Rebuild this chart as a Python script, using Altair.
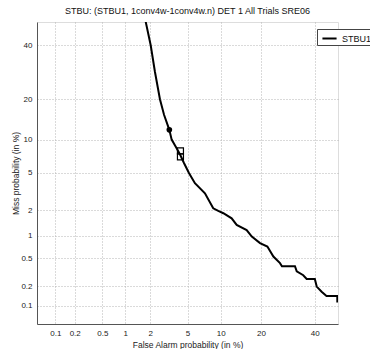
import altair as alt
import pandas as pd
from statistics import NormalDist

_nd = NormalDist()


def probit(pct):
    return _nd.inv_cdf(pct / 100.0)


# DET curve (percent)
curve_pfa = [1.74, 2.03, 2.27, 2.58, 2.86, 3.26, 3.45, 3.82, 4.20, 4.61, 5.16, 5.89,
             7.29, 8.63, 9.53, 10.5, 12.25, 13.4, 15.9, 17.3, 19.7, 22.0, 24.0, 26.3,
             27.0, 31.9, 32.6, 35.2, 36.6, 40.0, 40.8, 42.9, 45.0, 49.7, 49.7]
curve_pmiss = [51.7, 40.0, 29.3, 20.0, 15.6, 12.0, 10.0, 8.66, 7.48, 6.23, 5.0, 3.95,
               3.10, 2.12, 1.98, 1.86, 1.62, 1.35, 1.17, 0.97, 0.80, 0.72, 0.53, 0.43,
               0.39, 0.39, 0.33, 0.29, 0.256, 0.256, 0.197, 0.165, 0.142, 0.142, 0.112]

# min DCF point and actual DCF markers (percent)
min_pfa = [3.26]
min_pmiss = [12.0]
act_pfa = [4.25, 4.25]
act_pmiss = [8.0, 7.07]

tick_pct = [0.1, 0.2, 0.5, 1, 2, 5, 10, 20, 40]
tick_labels = ["0.1", "0.2", "0.5", "1", "2", "5", "10", "20", "40"]
domain_pct = [0.05, 50]
series_name = "STBU1"

curve = pd.DataFrame({
    "i": list(range(len(curve_pfa))),
    "x": [probit(v) for v in curve_pfa],
    "y": [probit(v) for v in curve_pmiss],
    "system": [series_name] * len(curve_pfa),
})
mins = pd.DataFrame({"x": [probit(v) for v in min_pfa], "y": [probit(v) for v in min_pmiss]})
acts = pd.DataFrame({"x": [probit(v) for v in act_pfa], "y": [probit(v) for v in act_pmiss]})

tick_vals = [probit(v) for v in tick_pct]
expr = "'" + tick_labels[-1] + "'"
for k in range(len(tick_vals) - 2, -1, -1):
    mid = (tick_vals[k] + tick_vals[k + 1]) / 2
    expr = f"datum.value < {mid:.4f} ? '{tick_labels[k]}' : ({expr})"

dom = [probit(domain_pct[0]), probit(domain_pct[1])]
FONT = "Liberation Sans"

common_axis = dict(
    values=tick_vals, tickCount=30, labelExpr=expr, grid=True, gridDash=[1, 2],
    gridColor="#b4b4b4", gridWidth=1, ticks=False, domainColor="#555555",
    labelFontSize=8, labelPadding=5, labelColor="#222222", titleFontSize=8.5,
    titleFontWeight="normal", titleColor="#222222", labelFont=FONT, titleFont=FONT,
    titleBaseline="middle", labelOverlap=False, labelFlush=False, labelBound=False,
)

xenc = alt.X("x:Q", scale=alt.Scale(domain=dom, nice=False, zero=False),
             axis=alt.Axis(title="False Alarm probability (in %)", titleX=150.5, titleY=20,
                           **common_axis))
yenc = alt.Y("y:Q", scale=alt.Scale(domain=dom, nice=False, zero=False),
             axis=alt.Axis(title="Miss probability (in %)", titleX=-22, titleY=151,
                           **common_axis))

line = alt.Chart(curve).mark_line(strokeWidth=2, clip=True).encode(
    x=xenc, y=yenc, order="i:Q",
    color=alt.Color("system:N", scale=alt.Scale(range=["black"]),
                    legend=alt.Legend(orient="none", legendX=280, legendY=7, title=None,
                                      symbolType="stroke", symbolSize=200,
                                      symbolStrokeWidth=2, padding=1, symbolOffset=3,
                                      labelOffset=4, strokeColor="#444444", fillColor="white",
                                      labelFontSize=9, labelFont=FONT, labelColor="#111111")),
)

pts_min = alt.Chart(mins).mark_point(shape="circle", filled=True, size=32, color="black",
                                     opacity=1).encode(x="x:Q", y="y:Q")
pts_act = alt.Chart(acts).mark_point(shape="square", filled=False, size=36, color="black",
                                     strokeWidth=1.2, opacity=1).encode(x="x:Q", y="y:Q")

chart = alt.layer(line, pts_min, pts_act).properties(
    width=301, height=302,
    autosize="none",
    padding={"left": 37, "top": 22, "right": 32, "bottom": 25},
    title=alt.TitleParams("STBU: (STBU1, 1conv4w-1conv4w.n) DET 1 All Trials SRE06",
                          fontSize=9, fontWeight="normal", offset=6, anchor="middle",
                          font=FONT, color="#111111"),
).configure_view(strokeWidth=0).configure(font=FONT)

chart.save("out.html", embed_options={"renderer": "svg", "actions": False})
